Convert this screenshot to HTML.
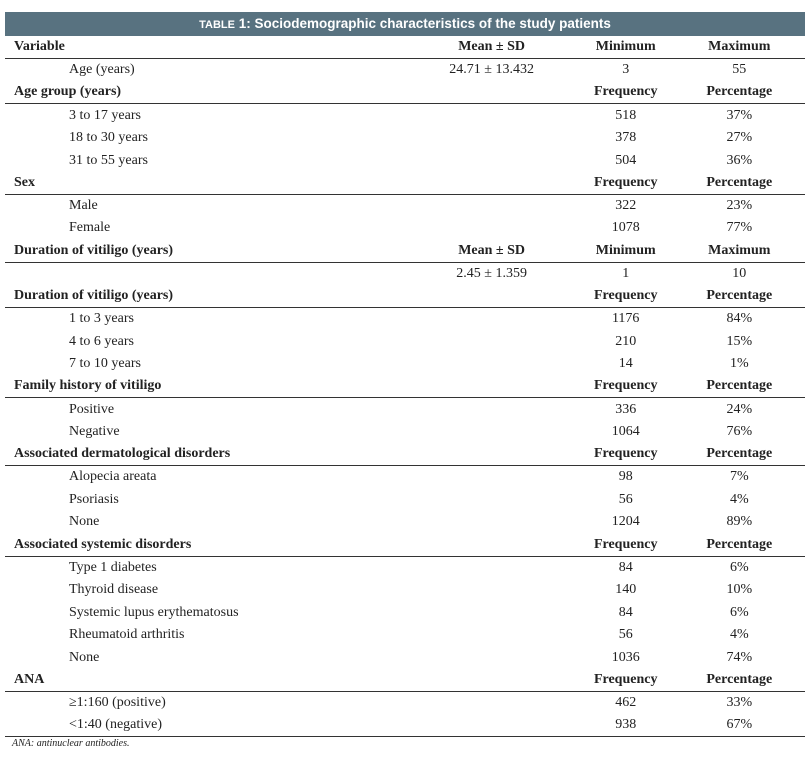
<!DOCTYPE html>
<html><head><style>
body{margin:0;background:#fff;width:810px;height:758px;position:relative;font-family:"Liberation Serif",serif;color:#222;}
.hdr{position:absolute;left:5px;top:12px;width:800px;height:24px;background:#587280;color:#fff;font-family:"Liberation Sans",sans-serif;font-size:13.5px;font-weight:bold;text-align:center;line-height:24px;}
table{position:absolute;left:5px;top:36px;width:800px;border-collapse:collapse;font-size:14px;}
td{height:22.45px;padding:0;line-height:22px;}
td.c1{width:370px;}
td.c2{width:190px;text-align:center;}
td.c3{width:100px;text-align:center;}
td.c4{width:140px;text-align:center;}
tr.b td{font-weight:bold;border-bottom:1.3px solid #333;height:21.1px;}
tr.b td.c1{padding-left:9px;}
tr.s td.c1{padding-left:64px;}
tr.last td{border-bottom:1.3px solid #333;height:21.1px;}
.fn{position:absolute;left:12px;top:738px;font-size:10px;font-style:italic;}
</style></head><body>
<div class="hdr"><span style="font-size:11px">TABLE</span> 1: Sociodemographic characteristics of the study patients</div>
<table>
<tr class="b"><td class="c1">Variable</td><td class="c2">Mean ± SD</td><td class="c3">Minimum</td><td class="c4">Maximum</td></tr>
<tr class="s"><td class="c1">Age (years)</td><td class="c2">24.71 ± 13.432</td><td class="c3">3</td><td class="c4">55</td></tr>
<tr class="b"><td class="c1">Age group (years)</td><td class="c2"></td><td class="c3">Frequency</td><td class="c4">Percentage</td></tr>
<tr class="s"><td class="c1">3 to 17 years</td><td class="c2"></td><td class="c3">518</td><td class="c4">37%</td></tr>
<tr class="s"><td class="c1">18 to 30 years</td><td class="c2"></td><td class="c3">378</td><td class="c4">27%</td></tr>
<tr class="s"><td class="c1">31 to 55 years</td><td class="c2"></td><td class="c3">504</td><td class="c4">36%</td></tr>
<tr class="b"><td class="c1">Sex</td><td class="c2"></td><td class="c3">Frequency</td><td class="c4">Percentage</td></tr>
<tr class="s"><td class="c1">Male</td><td class="c2"></td><td class="c3">322</td><td class="c4">23%</td></tr>
<tr class="s"><td class="c1">Female</td><td class="c2"></td><td class="c3">1078</td><td class="c4">77%</td></tr>
<tr class="b"><td class="c1">Duration of vitiligo (years)</td><td class="c2">Mean ± SD</td><td class="c3">Minimum</td><td class="c4">Maximum</td></tr>
<tr class="s"><td class="c1"></td><td class="c2">2.45 ± 1.359</td><td class="c3">1</td><td class="c4">10</td></tr>
<tr class="b"><td class="c1">Duration of vitiligo (years)</td><td class="c2"></td><td class="c3">Frequency</td><td class="c4">Percentage</td></tr>
<tr class="s"><td class="c1">1 to 3 years</td><td class="c2"></td><td class="c3">1176</td><td class="c4">84%</td></tr>
<tr class="s"><td class="c1">4 to 6 years</td><td class="c2"></td><td class="c3">210</td><td class="c4">15%</td></tr>
<tr class="s"><td class="c1">7 to 10 years</td><td class="c2"></td><td class="c3">14</td><td class="c4">1%</td></tr>
<tr class="b"><td class="c1">Family history of vitiligo</td><td class="c2"></td><td class="c3">Frequency</td><td class="c4">Percentage</td></tr>
<tr class="s"><td class="c1">Positive</td><td class="c2"></td><td class="c3">336</td><td class="c4">24%</td></tr>
<tr class="s"><td class="c1">Negative</td><td class="c2"></td><td class="c3">1064</td><td class="c4">76%</td></tr>
<tr class="b"><td class="c1">Associated dermatological disorders</td><td class="c2"></td><td class="c3">Frequency</td><td class="c4">Percentage</td></tr>
<tr class="s"><td class="c1">Alopecia areata</td><td class="c2"></td><td class="c3">98</td><td class="c4">7%</td></tr>
<tr class="s"><td class="c1">Psoriasis</td><td class="c2"></td><td class="c3">56</td><td class="c4">4%</td></tr>
<tr class="s"><td class="c1">None</td><td class="c2"></td><td class="c3">1204</td><td class="c4">89%</td></tr>
<tr class="b"><td class="c1">Associated systemic disorders</td><td class="c2"></td><td class="c3">Frequency</td><td class="c4">Percentage</td></tr>
<tr class="s"><td class="c1">Type 1 diabetes</td><td class="c2"></td><td class="c3">84</td><td class="c4">6%</td></tr>
<tr class="s"><td class="c1">Thyroid disease</td><td class="c2"></td><td class="c3">140</td><td class="c4">10%</td></tr>
<tr class="s"><td class="c1">Systemic lupus erythematosus</td><td class="c2"></td><td class="c3">84</td><td class="c4">6%</td></tr>
<tr class="s"><td class="c1">Rheumatoid arthritis</td><td class="c2"></td><td class="c3">56</td><td class="c4">4%</td></tr>
<tr class="s"><td class="c1">None</td><td class="c2"></td><td class="c3">1036</td><td class="c4">74%</td></tr>
<tr class="b"><td class="c1">ANA</td><td class="c2"></td><td class="c3">Frequency</td><td class="c4">Percentage</td></tr>
<tr class="s"><td class="c1">≥1:160 (positive)</td><td class="c2"></td><td class="c3">462</td><td class="c4">33%</td></tr>
<tr class="s last"><td class="c1">&lt;1:40 (negative)</td><td class="c2"></td><td class="c3">938</td><td class="c4">67%</td></tr>
</table>
<div class="fn">ANA: antinuclear antibodies.</div>
</body></html>
